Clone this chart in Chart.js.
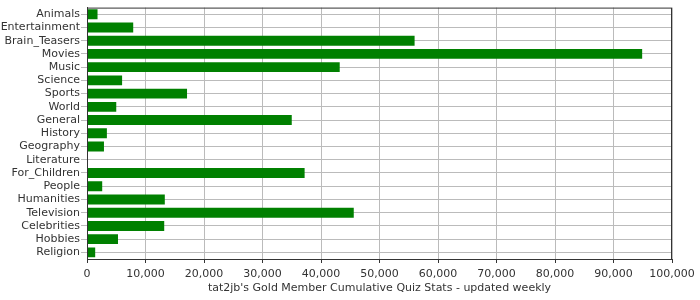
<!DOCTYPE html>
<html>
<head>
<meta charset="utf-8">
<script src="https://cdn.jsdelivr.net/npm/chart.js@4/dist/chart.umd.min.js"></script>
<style>
  body { margin: 0; background: #fff; }
  #wrap { width: 700px; height: 300px; }
</style>
</head>
<body>
<div id="wrap"><canvas id="chart" width="700" height="300"></canvas></div>
<script>
const categories = ['Animals', 'Entertainment', 'Brain_Teasers', 'Movies', 'Music', 'Science', 'Sports',
  'World', 'General', 'History', 'Geography', 'Literature', 'For_Children', 'People', 'Humanities',
  'Television', 'Celebrities', 'Hobbies', 'Religion'];
const points = [1800, 7900, 56000, 94900, 43200, 6000, 17100,
  5000, 35000, 3400, 2900, 0, 37200, 2600, 13300,
  45600, 13200, 5300, 1400];
const xTicks = [0, 10000, 20000, 30000, 40000, 50000, 60000, 70000, 80000, 90000, 100000];
const xTitle = "tat2jb's Gold Member Cumulative Quiz Stats - updated weekly";

const frame = {
  id: 'frame',
  afterDraw(chart) {
    const a = chart.chartArea, c = chart.ctx;
    c.save();
    c.strokeStyle = '#333';
    c.lineWidth = 1;
    c.strokeRect(a.left + 0.5, a.top + 0.5, a.right - a.left - 1, a.bottom - a.top);
    c.restore();
  }
};

Chart.defaults.font.family = '"DejaVu Sans", sans-serif';
Chart.defaults.font.size = 11;
Chart.defaults.color = '#333';

new Chart(document.getElementById('chart'), {
  type: 'bar',
  data: {
    labels: categories,
    datasets: [{
      data: points,
      backgroundColor: '#008000',
      barPercentage: 0.75,
      categoryPercentage: 1
    }]
  },
  options: {
    indexAxis: 'y',
    responsive: false,
    animation: false,
    layout: { padding: { top: 6, right: 28, left: 0, bottom: 0 } },
    plugins: { legend: { display: false }, tooltip: { enabled: false } },
    scales: {
      x: {
        min: 0,
        max: 100000,
        afterBuildTicks(scale) { scale.ticks = xTicks.map(v => ({ value: v })); },
        afterFit(scale) { scale.height = 41; },
        ticks: {
          padding: 5,
          maxRotation: 0,
          callback: v => v.toLocaleString('en-US')
        },
        grid: { color: '#bbb', tickColor: '#333', tickLength: 4 },
        border: { color: '#333' },
        title: { display: true, text: xTitle, color: '#333', padding: { top: 0, bottom: 5 } }
      },
      y: {
        afterFit(scale) { scale.width = 87; },
        ticks: { padding: 1, autoSkip: false },
        grid: { color: '#bbb', offset: false, tickLength: 6 },
        border: { color: '#333' }
      }
    }
  },
  plugins: [frame]
});
</script>
</body>
</html>
